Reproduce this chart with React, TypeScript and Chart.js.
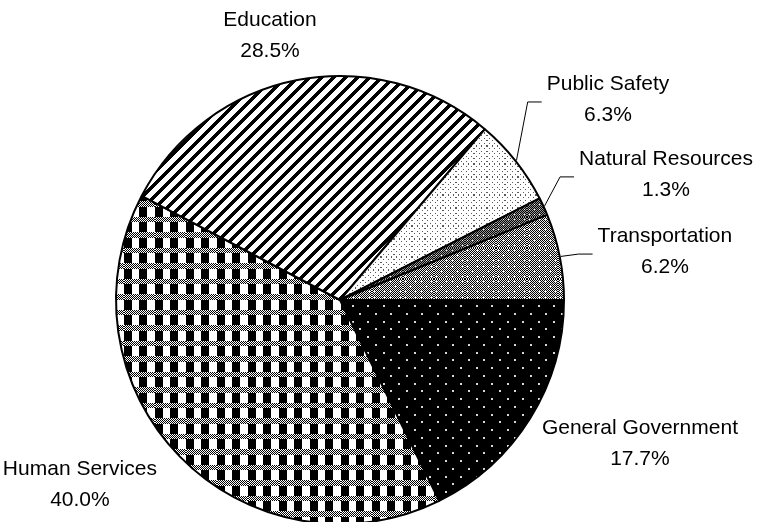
import React, { useEffect, useRef } from "react";
import { Chart, registerables } from "chart.js";

Chart.register(...registerables);

// ---- data ----
const categories = [
  "General Government",
  "Human Services",
  "Education",
  "Public Safety",
  "Natural Resources",
  "Transportation",
];
const shares = [17.7, 40.0, 28.5, 6.3, 1.3, 6.2];
const percentLabels = shares.map((v) => v.toFixed(1) + "%");

// ---- label placement (relative to pie centre, in units of radius) ----
const labelSpots = [
  { fx: 1.333, fy: 0.64, leader: false },
  { fx: -1.156, fy: 0.822, leader: false },
  { fx: -0.311, fy: -1.173, leader: false },
  { fx: 1.191, fy: -0.889, leader: true },
  { fx: 1.449, fy: -0.556, leader: true },
  { fx: 1.444, fy: -0.213, leader: true },
];

type RGB = [number, number, number];
const BLACK: RGB = [0, 0, 0];
const WHITE: RGB = [255, 255, 255];

function makePattern(size: number, fn: (x: number, y: number) => RGB): CanvasPattern {
  const c = document.createElement("canvas");
  c.width = size;
  c.height = size;
  const g = c.getContext("2d")!;
  const img = g.createImageData(size, size);
  for (let y = 0; y < size; y++) {
    for (let x = 0; x < size; x++) {
      const [r, gg, b] = fn(x, y);
      const k = (y * size + x) * 4;
      img.data[k] = r;
      img.data[k + 1] = gg;
      img.data[k + 2] = b;
      img.data[k + 3] = 255;
    }
  }
  g.putImageData(img, 0, 0);
  return g.createPattern(c, "repeat")!;
}

function near(u: number, c: number, w: number) {
  let d = Math.abs(u - c);
  d = Math.min(d, 1 - d);
  return d < w;
}

function buildPatterns(): CanvasPattern[] {
  const P = 15.5;
  const frac = (x: number, p: number) => (((x + 0.5) / p) % 1 + 1) % 1;
  // General Government: black with light dots
  const gg = makePattern(31, (x, y) => {
    const u = frac(x, P), v = frac(y, P);
    const w = 0.065;
    if ((near(u, 0.25, w) && near(v, 0.25, w)) || (near(u, 0.75, w) && near(v, 0.75, w)))
      return [215, 215, 215];
    return BLACK;
  });
  // Human Services: black/white columns with checker bands
  const hs = makePattern(31, (x, y) => {
    const u = frac(x, P), v = frac(y, P);
    if (v < 0.33) return (x + y) % 2 === 0 ? BLACK : WHITE;
    return u < 0.5 ? BLACK : WHITE;
  });
  // Education: diagonal stripes "/"
  const ed = makePattern(12, (x, y) => ((x + y) % 12 < 5 ? BLACK : WHITE));
  // Public Safety: sparse dark dots
  const Q = 31 / 6;
  const ps = makePattern(31, (x, y) => {
    const u = frac(x, Q), v = frac(y, Q);
    const w = 0.12;
    if ((near(u, 0.25, w) && near(v, 0.25, w)) || (near(u, 0.75, w) && near(v, 0.75, w)))
      return [90, 90, 90];
    return WHITE;
  });
  // Natural Resources: dark crosshatch
  const nr = makePattern(31, (x, y) => {
    const u = frac(x, Q), v = frac(y, Q);
    if (near(u, 0.5, 0.1) && near(v, 0.5, 0.1)) return WHITE;
    return (x + y) % 2 === 0 ? BLACK : [150, 150, 150];
  });
  // Transportation: grey mesh with white spots
  const tr = makePattern(31, (x, y) => {
    const u = frac(x, Q), v = frac(y, Q);
    if (near(u, 0.5, 0.09) && near(v, 0.5, 0.09)) return WHITE;
    return (x + y) % 2 === 0 ? BLACK : [235, 235, 235];
  });
  return [gg, hs, ed, ps, nr, tr];
}

const labelPlugin = {
  id: "sliceLabels",
  afterDatasetsDraw(chart: any) {
    const meta = chart.getDatasetMeta(0);
    const ctx: CanvasRenderingContext2D = chart.ctx;
    ctx.save();
    ctx.font = '21px "Liberation Sans", Arial, sans-serif';
    ctx.fillStyle = "#000";
    ctx.textAlign = "center";
    ctx.textBaseline = "middle";
    meta.data.forEach((arc: any, i: number) => {
      const p = arc.getProps(["x", "y", "outerRadius", "startAngle", "endAngle"], true);
      const r = p.outerRadius + 1;
      const spot = labelSpots[i];
      const cx = p.x + spot.fx * r;
      const cy = p.y + spot.fy * r;
      const lines = [categories[i], percentLabels[i]];
      ctx.fillText(lines[0], cx, cy - 15.5);
      ctx.fillText(lines[1], cx, cy + 15.5);
      if (spot.leader) {
        const mid = (p.startAngle + p.endAngle) / 2;
        const w = Math.max(...lines.map((l) => ctx.measureText(l).width));
        const ex = cx - w / 2 - 5;
        const ey = cy + 2;
        ctx.beginPath();
        ctx.moveTo(p.x + Math.cos(mid) * r, p.y + Math.sin(mid) * r);
        ctx.lineTo(ex - 14, ey);
        ctx.lineTo(ex, ey);
        ctx.strokeStyle = "#000";
        ctx.lineWidth = 1;
        ctx.stroke();
      }
    });
    ctx.restore();
  },
};

export default function App() {
  const ref = useRef<HTMLCanvasElement>(null);
  useEffect(() => {
    if (!ref.current) return;
    const patterns = buildPatterns();
    const chart = new Chart(ref.current, {
      type: "pie",
      data: {
        labels: categories,
        datasets: [
          {
            data: shares,
            backgroundColor: patterns as any,
            borderColor: "#000",
            borderWidth: 2,
          },
        ],
      },
      options: {
        animation: false,
        responsive: false,
        rotation: 90,
        layout: { padding: { left: 115, top: 75, right: 194, bottom: 15 } },
        plugins: {
          legend: { display: false },
          tooltip: { enabled: false },
        },
      },
      plugins: [labelPlugin],
    });
    return () => chart.destroy();
  }, []);
  return (
    <div
      style={{
        position: "absolute",
        left: 0,
        top: 0,
        width: 759,
        height: 522,
        overflow: "hidden",
        background: "#fff",
      }}
    >
      <canvas ref={ref} width={759} height={540} style={{ display: "block", width: 759, height: 540 }} />
    </div>
  );
}
